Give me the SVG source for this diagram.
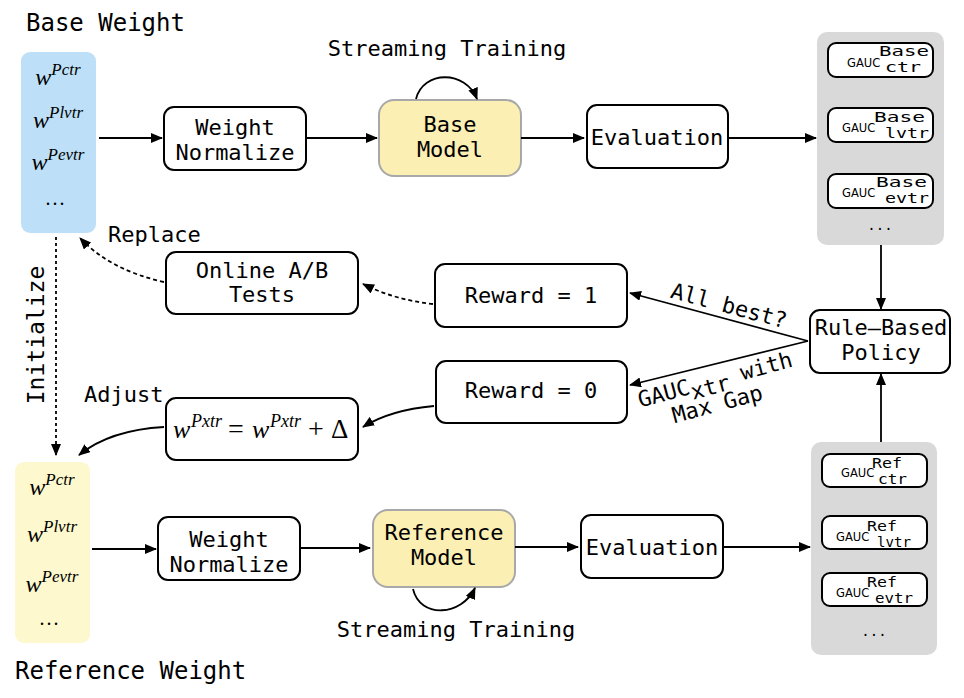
<svg xmlns="http://www.w3.org/2000/svg" width="964" height="698" viewBox="0 0 964 698">
<style>
.t{font-family:"DejaVu Sans Mono","Liberation Mono",monospace;font-size:22px;fill:#000}
.title{font-family:"DejaVu Sans Mono","Liberation Mono",monospace;font-size:24px;fill:#000}
.m{font-family:"Liberation Serif","DejaVu Serif",serif;font-style:italic;fill:#000}
.mr{font-family:"Liberation Serif","DejaVu Serif",serif;font-style:normal;fill:#000}
.g{font-family:"DejaVu Sans","Liberation Sans",sans-serif;font-size:11.5px;fill:#000}
.dots{font-family:"DejaVu Sans Mono","Liberation Mono",monospace;font-size:14px;fill:#000}
.s{font-family:"DejaVu Sans Mono","Liberation Mono",monospace;font-size:14px;fill:#000}
.box{fill:#fff;stroke:#000;stroke-width:2}
.model{fill:#fcefb4;stroke:#a8a8a8;stroke-width:2}
.inner{fill:#fff;stroke:#000;stroke-width:2}
.gray{fill:#d9d9d9}
.c{fill:none;stroke:#000;stroke-width:1.8}
.d{fill:none;stroke:#000;stroke-width:1.8;stroke-dasharray:4 3}
</style>
<defs>
<marker id="ah" viewBox="0 0 12 10" refX="11" refY="5" markerWidth="12" markerHeight="10" orient="auto" markerUnits="userSpaceOnUse"><path d="M0,0 L12,5 L0,10 z" fill="#000"/></marker>
</defs>
<rect width="964" height="698" fill="#fff"/>

<g id="base-weight">
<text class="title" x="26" y="31">Base Weight</text>
<rect x="21" y="52" width="75" height="181" rx="9" fill="#bde0f8"/>
<text class="m" x="58" y="85" text-anchor="middle" font-size="24">w<tspan dy="-10" font-size="17">Pctr</tspan></text>
<text class="m" x="58" y="128" text-anchor="middle" font-size="24">w<tspan dy="-10" font-size="17">Plvtr</tspan></text>
<text class="m" x="58" y="170" text-anchor="middle" font-size="24">w<tspan dy="-10" font-size="17">Pevtr</tspan></text>
<text class="mr" x="56" y="205" text-anchor="middle" font-size="20" letter-spacing="2">...</text>
</g>

<g id="weight-normalize-top">
<rect class="box" x="164" y="107" width="142" height="63" rx="10"/>
<text class="t" x="235" y="135" text-anchor="middle">Weight</text>
<text class="t" x="235" y="160" text-anchor="middle">Normalize</text>
</g>

<g id="base-model">
<rect class="model" x="379" y="100" width="142" height="76" rx="15"/>
<text class="t" x="450" y="132" text-anchor="middle">Base</text>
<text class="t" x="450" y="157" text-anchor="middle">Model</text>
<text class="t" x="447" y="56" text-anchor="middle">Streaming Training</text>
</g>

<g id="evaluation-top">
<rect class="box" x="587" y="105" width="141" height="63" rx="10"/>
<text class="t" x="657" y="145" text-anchor="middle">Evaluation</text>
</g>

<g id="gauc-base">
<rect class="gray" x="817" y="32" width="127" height="213" rx="10"/>
<rect class="inner" x="828" y="43" width="105" height="34" rx="8"/>
<text class="g" x="847" y="67">GAUC</text>
<text class="s" x="879" y="56" textLength="50" lengthAdjust="spacingAndGlyphs">Base</text>
<text class="s" x="885" y="72" textLength="36" lengthAdjust="spacingAndGlyphs">ctr</text>
<rect class="inner" x="828" y="108" width="105" height="34" rx="8"/>
<text class="g" x="842" y="132">GAUC</text>
<text class="s" x="874" y="122" textLength="51" lengthAdjust="spacingAndGlyphs">Base</text>
<text class="s" x="885" y="138" textLength="44" lengthAdjust="spacingAndGlyphs">lvtr</text>
<rect class="inner" x="828" y="174" width="105" height="34" rx="8"/>
<text class="g" x="842" y="197">GAUC</text>
<text class="s" x="876" y="187" textLength="51" lengthAdjust="spacingAndGlyphs">Base</text>
<text class="s" x="885" y="203" textLength="44" lengthAdjust="spacingAndGlyphs">evtr</text>
<text class="dots" x="880" y="230" text-anchor="middle">...</text>
</g>

<g id="rule-based-policy">
<rect class="box" x="810" y="310" width="140" height="63" rx="10"/>
<text class="t" x="881" y="335" text-anchor="middle">Rule–Based</text>
<text class="t" x="881" y="360" text-anchor="middle">Policy</text>
</g>

<g id="reward-1">
<rect class="box" x="435" y="264" width="192" height="63" rx="10"/>
<text class="t" x="531" y="303" text-anchor="middle">Reward = 1</text>
</g>

<g id="reward-0">
<rect class="box" x="436" y="361" width="191" height="62" rx="10"/>
<text class="t" x="531" y="398" text-anchor="middle">Reward = 0</text>
</g>

<g id="online-ab">
<rect class="box" x="166" y="252" width="192" height="62" rx="10"/>
<text class="t" x="262" y="278" text-anchor="middle">Online A/B</text>
<text class="t" x="262" y="302" text-anchor="middle">Tests</text>
</g>

<g id="adjust-formula">
<rect class="box" x="166" y="398" width="192" height="62" rx="10"/>
<text class="m" x="173" y="438" font-size="26">w</text>
<text class="m" x="191" y="427" font-size="18">Pxtr</text>
<text class="mr" x="228" y="438" font-size="28">=</text>
<text class="m" x="252" y="438" font-size="26">w</text>
<text class="m" x="270" y="427" font-size="18">Pxtr</text>
<text class="mr" x="308" y="438" font-size="28">+</text>
<text class="mr" x="331" y="438" font-size="27">Δ</text>
</g>

<g id="reference-weight">
<rect x="15" y="462" width="75" height="181" rx="9" fill="#fdf8cd"/>
<text class="m" x="52" y="495" text-anchor="middle" font-size="24">w<tspan dy="-10" font-size="17">Pctr</tspan></text>
<text class="m" x="52" y="542" text-anchor="middle" font-size="24">w<tspan dy="-10" font-size="17">Plvtr</tspan></text>
<text class="m" x="52" y="592" text-anchor="middle" font-size="24">w<tspan dy="-10" font-size="17">Pevtr</tspan></text>
<text class="mr" x="50" y="625" text-anchor="middle" font-size="20" letter-spacing="2">...</text>
<text class="title" x="15" y="679">Reference Weight</text>
</g>

<g id="weight-normalize-bottom">
<rect class="box" x="158" y="517" width="142" height="63" rx="10"/>
<text class="t" x="229" y="547" text-anchor="middle">Weight</text>
<text class="t" x="229" y="572" text-anchor="middle">Normalize</text>
</g>

<g id="reference-model">
<rect class="model" x="373" y="510" width="142" height="77" rx="15"/>
<text class="t" x="444" y="540" text-anchor="middle">Reference</text>
<text class="t" x="444" y="565" text-anchor="middle">Model</text>
<text class="t" x="456" y="637" text-anchor="middle">Streaming Training</text>
</g>

<g id="evaluation-bottom">
<rect class="box" x="581" y="515" width="142" height="63" rx="10"/>
<text class="t" x="652" y="555" text-anchor="middle">Evaluation</text>
</g>

<g id="gauc-ref">
<rect class="gray" x="811" y="442" width="126" height="213" rx="10"/>
<rect class="inner" x="822" y="454" width="105" height="33" rx="8"/>
<text class="g" x="841" y="477">GAUC</text>
<text class="s" x="872" y="468" textLength="30" lengthAdjust="spacingAndGlyphs">Ref</text>
<text class="s" x="878" y="484" textLength="29" lengthAdjust="spacingAndGlyphs">ctr</text>
<rect class="inner" x="822" y="516" width="105" height="33" rx="8"/>
<text class="g" x="836" y="541">GAUC</text>
<text class="s" x="867" y="531" textLength="30" lengthAdjust="spacingAndGlyphs">Ref</text>
<text class="s" x="877" y="547" textLength="34" lengthAdjust="spacingAndGlyphs">lvtr</text>
<rect class="inner" x="822" y="573" width="105" height="33" rx="8"/>
<text class="g" x="836" y="597">GAUC</text>
<text class="s" x="867" y="587" textLength="30" lengthAdjust="spacingAndGlyphs">Ref</text>
<text class="s" x="875" y="603" textLength="38" lengthAdjust="spacingAndGlyphs">evtr</text>
<text class="dots" x="874" y="636" text-anchor="middle">...</text>
</g>

<g id="connectors">
<path class="c" d="M99,138 H162" marker-end="url(#ah)"/>
<path class="c" d="M306,138 H377" marker-end="url(#ah)"/>
<path class="c" d="M416,99 C423,70 466,70 477,99" marker-end="url(#ah)"/>
<path class="c" d="M521,138 H584" marker-end="url(#ah)"/>
<path class="c" d="M728,138 H816" marker-end="url(#ah)"/>
<path class="c" d="M881,245 V309" marker-end="url(#ah)"/>
<path class="c" d="M881,442 V374" marker-end="url(#ah)"/>
<path class="c" d="M808,341 L630,293" marker-end="url(#ah)"/>
<path class="c" d="M808,341 L630,385" marker-end="url(#ah)"/>
<path class="d" d="M433,304 Q395,300 363,284" marker-end="url(#ah)"/>
<path class="d" d="M164,282 Q110,270 80,238" marker-end="url(#ah)"/>
<path class="d" d="M56,237 V455" style="stroke-dasharray:3 3" marker-end="url(#ah)"/>
<path class="c" d="M434,406 Q390,410 363,427" marker-end="url(#ah)"/>
<path class="c" d="M164,427 Q110,430 79,455" marker-end="url(#ah)"/>
<path class="c" d="M92,549 H156" marker-end="url(#ah)"/>
<path class="c" d="M300,548 H370" marker-end="url(#ah)"/>
<path class="c" d="M413,589 C420,619 462,616 475,588" marker-end="url(#ah)"/>
<path class="c" d="M515,547 H578" marker-end="url(#ah)"/>
<path class="c" d="M723,547 H810" marker-end="url(#ah)"/>
<text class="t" x="108" y="242">Replace</text>
<text class="t" x="84" y="402">Adjust</text>
<text class="t" transform="translate(44,335) rotate(-90)" text-anchor="middle" style="font-size:23px">Initialize</text>
<text class="t" transform="translate(727,313) rotate(15)" text-anchor="middle">All best?</text>
<g transform="translate(717,387) rotate(-15)">
<text class="t" x="0" y="0" text-anchor="middle">GAUC<tspan dy="6">xtr</tspan><tspan dy="-6"> with</tspan></text>
<text class="t" x="-4" y="24" text-anchor="middle">Max Gap</text>
</g>
</g>
</svg>
